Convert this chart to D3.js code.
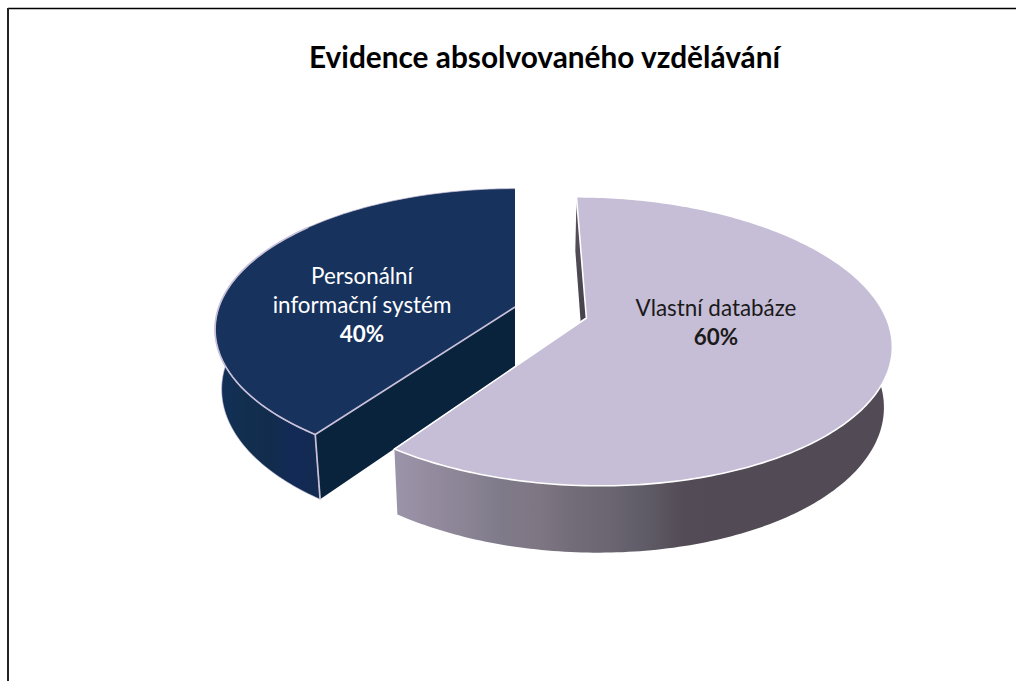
<!DOCTYPE html>
<html>
<head>
<meta charset="utf-8">
<style>
  html, body { margin: 0; padding: 0; background: #fff; }
  svg { display: block; }
  text { font-family: Lato, "Open Sans", sans-serif; }
</style>
<script src="https://cdn.jsdelivr.net/npm/d3@7"></script>
</head>
<body>
<div id="chart"></div>
<script>
'use strict';

var chartTitle = "Evidence absolvovaného vzdělávání";
var categories = ["Vlastní databáze", "Personální informační systém"];
var shares = [60, 40];
var labelLines = [["Vlastní databáze"], ["Personální", "informační systém"]];

var purpleStops = ["#9c95a9", "#948b9f", "#8a8494", "#7f7a89", "#7f7683", "#716c77", "#6a6570", "#5f5b66", "#534b55", "#524b55"];
var blueStops = ["#12305a", "#122f50", "#122c4c", "#122a56", "#132b50"];

var width = 1016, height = 681;

var svg = d3.select("#chart").append("svg")
  .attr("width", width)
  .attr("height", height);

var defs = svg.append("defs");

function addGradient(id, x1, x2, colors) {
  var g = defs.append("linearGradient")
    .attr("id", id)
    .attr("gradientUnits", "userSpaceOnUse")
    .attr("x1", x1).attr("x2", x2)
    .attr("y1", 0).attr("y2", 0);
  g.selectAll("stop").data(colors).enter().append("stop")
    .attr("offset", function(d, i) { return i / (colors.length - 1); })
    .attr("stop-color", function(d) { return d; });
}

addGradient("purpleSide", 393, 720, purpleStops);
addGradient("blueSide", 216, 319, blueStops);

// sliver of the purple wedge's back wall
var sliver = defs.append("linearGradient")
  .attr("id", "sliverFade")
  .attr("x1", 0).attr("x2", 0).attr("y1", 0).attr("y2", 1);
sliver.append("stop").attr("offset", 0).attr("stop-color", "#e4e4e8");
sliver.append("stop").attr("offset", 0.1).attr("stop-color", "#55505a");
sliver.append("stop").attr("offset", 1).attr("stop-color", "#3f3b45");

// frame of the original slide
svg.append("line").attr("x1", 8).attr("x2", width).attr("y1", 8.5).attr("y2", 8.5)
  .attr("stroke", "#000").attr("stroke-width", 1.3);
svg.append("line").attr("x1", 8).attr("x2", 8).attr("y1", 8).attr("y2", height)
  .attr("stroke", "#222").attr("stroke-width", 2);

svg.append("text")
  .attr("x", 544.5).attr("y", 68)
  .attr("text-anchor", "middle")
  .attr("font-size", 29.8)
  .attr("font-weight", 700)
  .attr("fill", "#000")
  .text(chartTitle);

// perspective of the tilted pie: y goes towards the viewer, z goes down
var vanishX = 515, vanishY = 312.5;
var scaleX = 298, scaleY = 139, tilt = 0.16, depth = 61, shrink = 0.022, explode = 0.1317;

function project(x, y, z) {
  var w = 1 - tilt * y + shrink * z;
  return [vanishX + scaleX * x / w, vanishY + (scaleY * y + depth * z) / w];
}

var pie = d3.pie().sort(null).startAngle(0).endAngle(2 * Math.PI);
var slices = pie(shares);
var path = d3.line();

// wedge centres in pie units, pushed apart along each bisector
var mid = function(s) { return (s.startAngle + s.endAngle) / 2; };
var baseX = 0.119;
slices.forEach(function(s) {
  var m = mid(s);
  s.cx = baseX + explode * 0.95 * Math.sin(m);
  s.cy = -0.128 * Math.cos(m);
  s.rim = function(a, z) {
    return project(s.cx + Math.sin(a), s.cy - Math.cos(a), z);
  };
  s.apex = function(z) { return project(s.cx, s.cy, z); };
});

function arcPoints(s, a0, a1, z) {
  var n = Math.max(2, Math.round(Math.abs(a1 - a0) * 60));
  return d3.range(n + 1).map(function(i) { return s.rim(a0 + (a1 - a0) * i / n, z); });
}

var purple = slices[0], blue = slices[1];
var topColors = ["#c6bdd6", "#17325c"];
var blueWallEnd = 1.72 * Math.PI, purpleWallStart = 0.32 * Math.PI;

// blue wedge: outer wall, cut wall, top
svg.append("path")
  .attr("d", path(arcPoints(blue, blue.startAngle, blueWallEnd, 0)
    .concat(arcPoints(blue, blueWallEnd, blue.startAngle, 1))) + "Z")
  .attr("fill", "url(#blueSide)")
  .attr("stroke", "#cfc8dc").attr("stroke-width", 0.6);

svg.append("path")
  .attr("d", path([blue.apex(0), blue.rim(blue.startAngle, 0), blue.rim(blue.startAngle, 1), blue.apex(1)]) + "Z")
  .attr("fill", "#0a233c");

svg.append("path")
  .attr("d", path(arcPoints(blue, blue.startAngle, blue.endAngle, 0).concat([blue.apex(0)])) + "Z")
  .attr("fill", topColors[1]);

// lilac rim: corner edge, front cut and the lower part of the arc
svg.append("path")
  .attr("d", path([blue.rim(blue.startAngle, 1), blue.rim(blue.startAngle, 0)]))
  .attr("fill", "none").attr("stroke", "#c9c1d9").attr("stroke-width", 1.7);
svg.append("path")
  .attr("d", path(arcPoints(blue, blue.startAngle, blue.endAngle, 0)))
  .attr("fill", "none").attr("stroke", "#c9c1d9").attr("stroke-width", 0.7);
svg.append("path")
  .attr("d", path([blue.apex(0)].concat(arcPoints(blue, blue.startAngle, blueWallEnd, 0))))
  .attr("fill", "none").attr("stroke", "#c9c1d9").attr("stroke-width", 1.7);

// purple wedge: back wall sliver, outer wall, top
svg.append("path")
  .attr("d", path([purple.apex(0), purple.rim(0, 0), purple.rim(0, 1), purple.apex(1)]) + "Z")
  .attr("fill", "url(#sliverFade)");

svg.append("path")
  .attr("d", path(arcPoints(purple, purpleWallStart, purple.endAngle, 0)
    .concat(arcPoints(purple, purple.endAngle, purpleWallStart, 1))) + "Z")
  .attr("fill", "url(#purpleSide)");

svg.append("path")
  .attr("d", path(arcPoints(purple, purple.startAngle, purple.endAngle, 0).concat([purple.apex(0)])) + "Z")
  .attr("fill", topColors[0])
  .attr("stroke", "#fff").attr("stroke-width", 1.6);

// data labels
var labelColors = ["#1a1a1a", "#ffffff"];
var labelAnchors = [[716, 316], [362, 284]];
var lineHeight = 29;

slices.forEach(function(s, i) {
  var lines = labelLines[i];
  var g = svg.append("text")
    .attr("text-anchor", "middle")
    .attr("font-size", 22.4)
    .attr("fill", labelColors[i]);
  lines.forEach(function(t, j) {
    g.append("tspan")
      .attr("x", labelAnchors[i][0])
      .attr("y", labelAnchors[i][1] + j * lineHeight)
      .text(t);
  });
  g.append("tspan")
    .attr("x", labelAnchors[i][0])
    .attr("y", labelAnchors[i][1] + lines.length * lineHeight)
    .attr("font-weight", 700)
    .text(shares[i] + "%");
});
</script>
</body>
</html>
